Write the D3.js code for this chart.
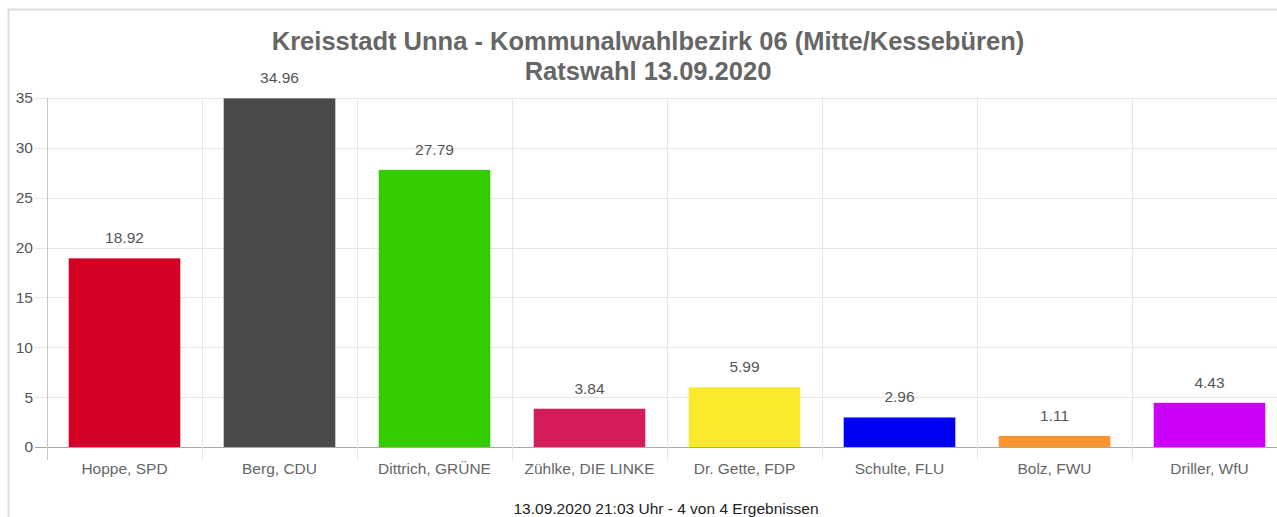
<!DOCTYPE html>
<html>
<head>
<meta charset="utf-8">
<script src="https://cdn.jsdelivr.net/npm/d3@7"></script>
<style>
  body { margin: 0; background: #fff; font-family: "Liberation Sans", Arial, sans-serif; }
  svg { display: block; }
</style>
</head>
<body>
<div id="chart"></div>
<script>
// data
var candidates = ['Hoppe, SPD', 'Berg, CDU', 'Dittrich, GRÜNE', 'Zühlke, DIE LINKE',
                  'Dr. Gette, FDP', 'Schulte, FLU', 'Bolz, FWU', 'Driller, WfU'];
var shares = [18.92, 34.96, 27.79, 3.84, 5.99, 2.96, 1.11, 4.43];
var partyColors = ['#d50025', '#4a4a4a', '#33cc00', '#d41b5c',
                   '#faea2b', '#0000f5', '#fd9433', '#cc00f8'];
var yTicks = [0, 5, 10, 15, 20, 25, 30, 35];
var titleLines = ['Kreisstadt Unna - Kommunalwahlbezirk 06 (Mitte/Kessebüren)', 'Ratswahl 13.09.2020'];
var footerText = '13.09.2020 21:03 Uhr - 4 von 4 Ergebnissen';

var W = 1277, H = 517;
var margin = {top: 98, left: 47, bottom: 70};
var plotH = 447 - margin.top;
var plotW = 155 * candidates.length;
var smallFont = 15.5;

var svg = d3.select('#chart').append('svg')
    .attr('width', W)
    .attr('height', H);

// outer frame
svg.append('path')
    .attr('d', 'M8.5,' + H + 'V9.5H' + W)
    .attr('fill', 'none')
    .attr('stroke', '#dcdde3')
    .attr('stroke-width', 2);

// title
svg.selectAll('.title')
    .data(titleLines)
    .join('text')
    .attr('class', 'title')
    .attr('x', 648)
    .attr('y', (d, i) => 50 + i * 30)
    .attr('text-anchor', 'middle')
    .attr('font-size', 25.5)
    .attr('font-weight', 'bold')
    .attr('fill', '#666')
    .text(d => d);

var g = svg.append('g')
    .attr('transform', 'translate(' + margin.left + ',' + margin.top + ')');

var xScale = d3.scaleBand().domain(candidates).range([0, plotW]).paddingInner(0.28).paddingOuter(0.14);
var yScale = d3.scaleLinear().domain([0, 35]).range([plotH, 0]);

// horizontal grid
g.selectAll('.hgrid')
    .data(yTicks)
    .join('line')
    .attr('class', 'hgrid')
    .attr('x1', -12)
    .attr('x2', plotW)
    .attr('y1', d => Math.round(yScale(d)) + 0.5)
    .attr('y2', d => Math.round(yScale(d)) + 0.5)
    .attr('stroke', d => d === 0 ? '#a8a8a8' : '#e6e6e6');

// vertical grid between categories
var bandStep = xScale.step();
g.selectAll('.vgrid')
    .data(d3.range(0, candidates.length + 1))
    .join('line')
    .attr('class', 'vgrid')
    .attr('x1', d => Math.round(d * bandStep) + 0.5)
    .attr('x2', d => Math.round(d * bandStep) + 0.5)
    .attr('y1', 0)
    .attr('y2', plotH + 13)
    .attr('stroke', d => d === 0 ? '#c8c8c8' : '#e6e6e6');

// y axis labels
var yAxis = d3.axisLeft(yScale).tickValues(yTicks).tickSize(0).tickPadding(14);
g.append('g')
    .call(yAxis)
    .call(a => a.select('.domain').remove())
    .call(a => a.selectAll('text')
        .attr('font-family', '"Liberation Sans", Arial, sans-serif')
        .attr('font-size', smallFont)
        .attr('fill', '#555'));

// x axis labels
var xAxis = d3.axisBottom(xScale).tickSize(0).tickPadding(16);
g.append('g')
    .attr('transform', 'translate(0,' + plotH + ')')
    .call(xAxis)
    .call(a => a.select('.domain').remove())
    .call(a => a.selectAll('text')
        .attr('font-family', '"Liberation Sans", Arial, sans-serif')
        .attr('font-size', smallFont)
        .attr('fill', '#666'));

// bars
var rows = candidates.map((c, i) => ({name: c, value: shares[i], color: partyColors[i]}));
g.selectAll('.bar')
    .data(rows)
    .join('rect')
    .attr('class', 'bar')
    .attr('x', d => xScale(d.name))
    .attr('width', xScale.bandwidth())
    .attr('y', d => yScale(d.value))
    .attr('height', d => plotH - yScale(d.value))
    .attr('fill', d => d.color);

// value labels
g.selectAll('.val')
    .data(rows)
    .join('text')
    .attr('class', 'val')
    .attr('x', d => xScale(d.name) + xScale.bandwidth() / 2)
    .attr('y', d => yScale(d.value) - 15)
    .attr('text-anchor', 'middle')
    .attr('font-size', smallFont)
    .attr('fill', '#555')
    .text(d => d.value.toFixed(2));

// footer
svg.append('text')
    .attr('x', 666)
    .attr('y', 514)
    .attr('text-anchor', 'middle')
    .attr('font-size', smallFont)
    .attr('fill', '#222')
    .text(footerText);
</script>
</body>
</html>
